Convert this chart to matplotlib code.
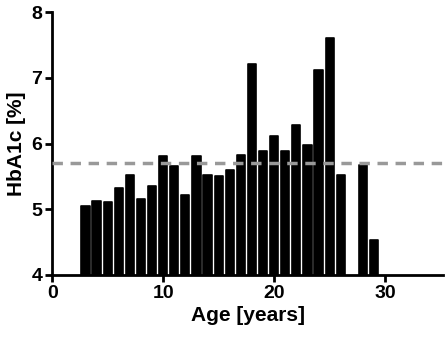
import matplotlib
matplotlib.use('Agg')
import matplotlib.pyplot as plt

# ── Data ─────────────────────────────────────────────────────────────────────
ages = [3, 4, 5, 6, 7, 8, 9, 10, 11, 12, 13, 14, 15, 16, 17, 18, 19, 20,
        21, 22, 23, 24, 25, 26, 28, 29]
hba1c = [5.05, 5.12, 5.11, 5.32, 5.52, 5.16, 5.36, 5.81, 5.66, 5.21, 5.81,
         5.52, 5.51, 5.59, 5.83, 7.21, 5.89, 6.11, 5.89, 6.28, 5.97, 7.12,
         7.61, 5.52, 5.68, 4.53]
reference = 5.7

plt.rcParams['font.family'] = ['Liberation Sans', 'DejaVu Sans']
plt.rcParams['font.weight'] = 'bold'

fig = plt.figure(figsize=(4.46, 3.45), dpi=100)
ax = fig.add_axes([0.117, 0.203, 0.876, 0.762])

ax.bar(ages, [v - 4 for v in hba1c], bottom=4, width=0.74, color='black',
       edgecolor='black', linewidth=1.2, joinstyle='round')
ax.axhline(reference, color='#999999', linestyle=(0, (3, 2.2)), linewidth=2.5, zorder=3)

ax.set_xlim(0, 35.2)
ax.set_ylim(4, 8)
ax.set_xticks([0, 10, 20, 30])
ax.set_yticks([4, 5, 6, 7, 8])
ax.set_xlabel('Age [years]', fontsize=15, fontweight='bold', labelpad=3)
ax.set_ylabel('HbA1c [%]', fontsize=15, fontweight='bold', labelpad=4)

for side in ['top', 'right']:
    ax.spines[side].set_visible(False)
for side in ['left', 'bottom']:
    ax.spines[side].set_linewidth(2)
ax.tick_params(width=2, length=5, labelsize=14, direction='out', pad=2)
for lab in ax.get_xticklabels() + ax.get_yticklabels():
    lab.set_fontweight('bold')

fig.savefig('out.png', dpi=100)
